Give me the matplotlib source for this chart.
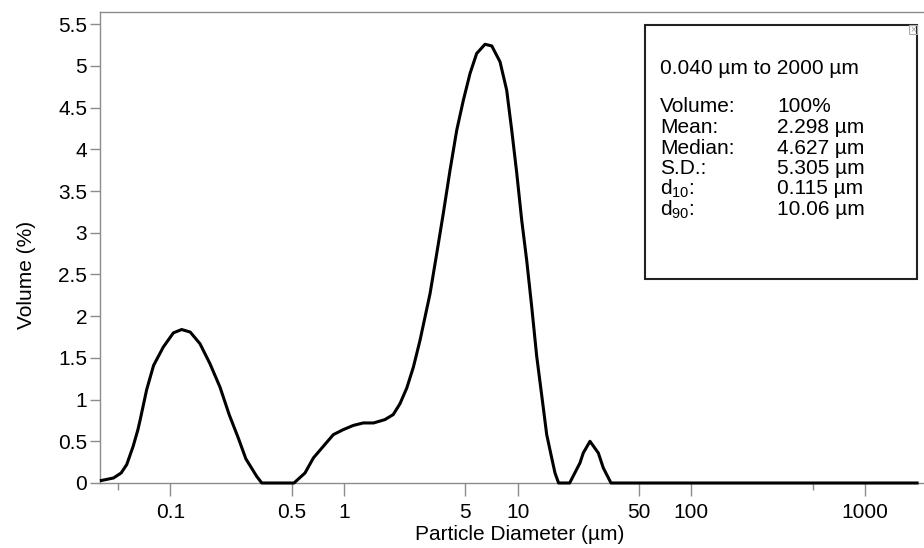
import matplotlib.pyplot as plt
from matplotlib.patches import Rectangle

plt.rcParams['font.family'] = ['Liberation Sans', 'DejaVu Sans']
plt.rcParams['mathtext.fontset'] = 'custom'
plt.rcParams['mathtext.rm'] = 'Liberation Sans'

# === DATA ===
diameter = [0.040, 0.047, 0.052, 0.056, 0.061, 0.065, 0.067, 0.073, 0.080, 0.091,
            0.104, 0.116, 0.130, 0.148, 0.169, 0.193, 0.218, 0.246, 0.272, 0.314,
            0.336, 0.515, 0.596, 0.666, 0.760, 0.868, 0.991, 1.13, 1.29, 1.48,
            1.72, 1.92, 2.10, 2.30, 2.51, 2.74, 3.13, 3.42, 3.73, 4.08,
            4.46, 4.87, 5.32, 5.81, 6.49, 7.10, 7.92, 8.65, 9.25, 9.88,
            10.56, 11.28, 12.06, 12.88, 13.77, 14.71, 15.72, 16.42, 17.22, 19.94,
            22.86, 23.89, 26.12, 29.17, 31.17, 34.51, 2000]
volume = [0.03, 0.06, 0.12, 0.22, 0.44, 0.64, 0.76, 1.12, 1.41, 1.63,
          1.80, 1.84, 1.81, 1.67, 1.43, 1.15, 0.82, 0.54, 0.29, 0.08,
          0.0, 0.0, 0.12, 0.30, 0.44, 0.58, 0.64, 0.69, 0.72, 0.72,
          0.76, 0.82, 0.95, 1.14, 1.39, 1.71, 2.27, 2.75, 3.23, 3.75,
          4.23, 4.59, 4.91, 5.15, 5.26, 5.24, 5.05, 4.71, 4.23, 3.72,
          3.15, 2.67, 2.11, 1.52, 1.05, 0.58, 0.30, 0.12, 0.0, 0.0,
          0.24, 0.36, 0.50, 0.36, 0.18, 0.0, 0.0]

xticks_major = [0.1, 0.5, 1, 5, 10, 50, 100, 1000]
xtick_labels = ['0.1', '0.5', '1', '5', '10', '50', '100', '1000']
xticks_minor = [0.05, 500]
yticks = [0, 0.5, 1, 1.5, 2, 2.5, 3, 3.5, 4, 4.5, 5, 5.5]
ytick_labels = ['0', '0.5', '1', '1.5', '2', '2.5', '3', '3.5', '4', '4.5', '5', '5.5']

stat_names = ['Volume:', 'Mean:', 'Median:', 'S.D.:', r'd$_{\mathregular{10}}$:', r'd$_{\mathregular{90}}$:']
stat_values = ['100%', '2.298 µm', '4.627 µm', '5.305 µm', '0.115 µm', '10.06 µm']
range_text = '0.040 µm to 2000 µm'

# === FIGURE ===
W, H = 924, 548
fig = plt.figure(figsize=(W / 100, H / 100), dpi=100)
ax = fig.add_axes([100 / W, 1 - 483 / H, 840 / W, 471 / H])

ax.plot(diameter, volume, color='black', lw=2.2, clip_on=False, zorder=5)
ax.set_xscale('log')
ax.set_xlim(0.0393, 2711)
ax.set_ylim(0, 5.647)

gray = '#8c8c8c'
for s in ['left', 'top', 'bottom']:
    ax.spines[s].set_color(gray)
    ax.spines[s].set_linewidth(1.0)
ax.spines['right'].set_visible(False)

ax.set_xticks(xticks_major)
ax.set_xticklabels(xtick_labels)
ax.set_xticks(xticks_minor, minor=True)
ax.set_xticklabels([], minor=True)
ax.set_yticks(yticks)
ax.set_yticklabels(ytick_labels)
ax.tick_params(axis='x', which='major', length=9.4, width=1, color=gray, pad=5, labelsize=15)
ax.tick_params(axis='x', which='minor', length=5, width=1, color=gray)
ax.tick_params(axis='y', length=7.2, width=1, color=gray, pad=2, labelsize=15)

fig.text(520 / W, 1 - 535 / H, 'Particle Diameter (µm)', ha='center', va='center', fontsize=15)
fig.text(26 / W, 1 - 275 / H, 'Volume (%)', ha='center', va='center', rotation=90, fontsize=15)

# === STATS BOX ===
box_l, box_t, box_r, box_b = 645, 25, 917, 279
fig.patches.append(Rectangle((box_l / W, 1 - box_b / H), (box_r - box_l) / W, (box_b - box_t) / H,
                             transform=fig.transFigure, fill=True, facecolor='white',
                             edgecolor='#222222', lw=1.5, zorder=10))
fig.patches.append(Rectangle((909 / W, 1 - 34 / H), 8 / W, 9 / H, transform=fig.transFigure,
                             fill=False, edgecolor='#aaaaaa', lw=0.8, zorder=11))
fig.text(913 / W, 1 - 29.5 / H, '×', ha='center', va='center', fontsize=7, color='#999999', zorder=12)

fig.text(660 / W, 1 - 69 / H, range_text, ha='left', va='center', fontsize=15, zorder=12)
for i, (name, val) in enumerate(zip(stat_names, stat_values)):
    y = 107 + i * 20.5
    fig.text(660 / W, 1 - y / H, name, ha='left', va='center', fontsize=15, zorder=12)
    fig.text(777 / W, 1 - y / H, val, ha='left', va='center', fontsize=15, zorder=12)

plt.savefig('out.png', dpi=100)
